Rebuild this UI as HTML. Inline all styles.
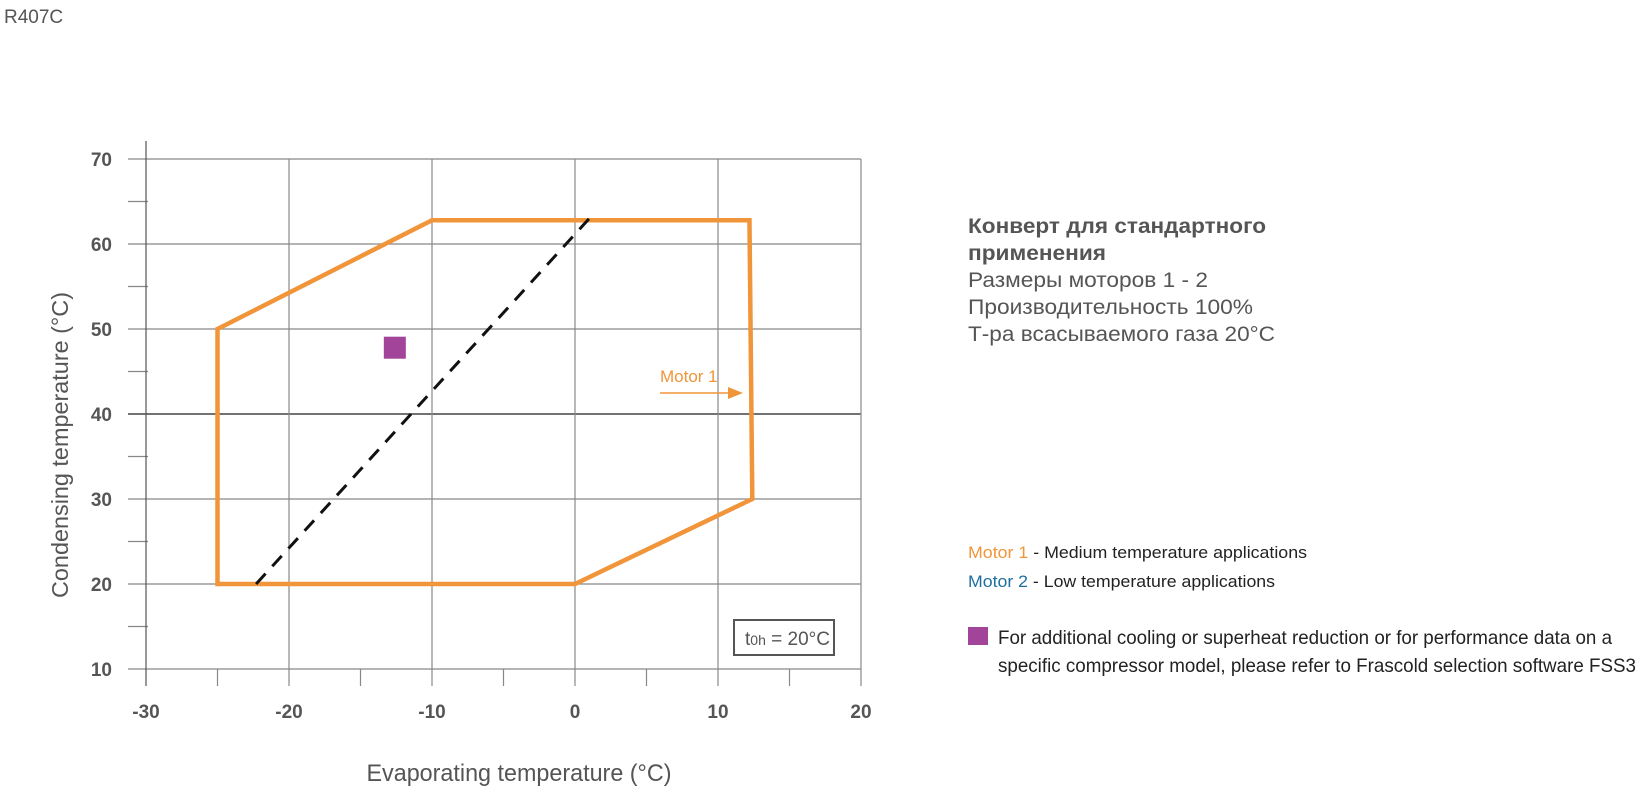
<!DOCTYPE html>
<html><head><meta charset="utf-8"><style>
html,body{margin:0;padding:0;background:#fff;}
svg{display:block;font-family:"Liberation Sans",sans-serif;}
</style></head><body>
<svg id="chart" width="1636" height="795" viewBox="0 0 1636 795">
<text x="4" y="23" font-size="19" fill="#555">R407C</text>
<g id="grid"></g>
<g id="marks"></g>
<text x="519" y="781" font-size="24" fill="#555" text-anchor="middle" textLength="305" lengthAdjust="spacingAndGlyphs">Evaporating temperature (°C)</text>
<text transform="translate(68,445) rotate(-90)" font-size="23" fill="#555" text-anchor="middle" textLength="306" lengthAdjust="spacingAndGlyphs">Condensing temperature (°C)</text>
<g>
<rect x="734" y="620" width="100" height="35" fill="#fff" stroke="#555" stroke-width="2"/>
<text x="745" y="645" font-size="19" fill="#555">t<tspan font-size="14">0h</tspan> = 20°C</text>
</g>
<g>
<text x="660" y="382" font-size="17" fill="#f0953a">Motor 1</text>
<line x1="660" y1="393" x2="738" y2="393" stroke="#f0953a" stroke-width="1.5"/>
<path d="M728,387 L743,393 L728,399 Z" fill="#f0953a"/>
</g>
<g fill="#555" font-size="21" lengthAdjust="spacingAndGlyphs">
<text x="968" y="233" font-weight="bold" textLength="298" lengthAdjust="spacingAndGlyphs">Конверт для стандартного</text>
<text x="968" y="260" font-weight="bold" textLength="138" lengthAdjust="spacingAndGlyphs">применения</text>
<text x="968" y="287" textLength="240" lengthAdjust="spacingAndGlyphs">Размеры моторов 1 - 2</text>
<text x="968" y="314" textLength="285" lengthAdjust="spacingAndGlyphs">Производительность 100%</text>
<text x="968" y="341" textLength="307" lengthAdjust="spacingAndGlyphs">Т-ра всасываемого газа 20°C</text>
</g>
<g font-size="17" fill="#222">
<text x="968" y="558" textLength="339" lengthAdjust="spacingAndGlyphs"><tspan fill="#f0953a">Motor 1</tspan> - Medium temperature applications</text>
<text x="968" y="587" textLength="307" lengthAdjust="spacingAndGlyphs"><tspan fill="#1f6f9e">Motor 2</tspan> - Low temperature applications</text>
<rect x="968" y="627" width="20" height="18" fill="#a1449a"/>
<text x="998" y="644" font-size="19.5" textLength="614" lengthAdjust="spacingAndGlyphs">For additional cooling or superheat reduction or for performance data on a</text>
<text x="998" y="672" font-size="19.5" textLength="638" lengthAdjust="spacingAndGlyphs">specific compressor model, please refer to Frascold selection software FSS3</text>
</g>
</svg>
<script>
const xTicks = [-30,-20,-10,0,10,20];
const yTicks = [10,20,30,40,50,60,70];
const envelopeX = [-25,-10,12.2,12.4,0,-25];
const envelopeY = [50,62.8,62.8,30,20,20];
const dashX = [-22.3,1];
const dashY = [20,63];
const squareX = [-12.6];
const squareY = [47.8];

const X = v => 575 + v*14.3;
const Y = v => 669 - (v-10)*8.5;
const NS = 'http://www.w3.org/2000/svg';
const grid = document.getElementById('grid');
const marks = document.getElementById('marks');
function mk(tag, attrs, parent){const e=document.createElementNS(NS,tag);for(const k in attrs)e.setAttribute(k,attrs[k]);parent.appendChild(e);return e;}

yTicks.forEach(v=>{
  const l=mk('line',{x1:128,x2:X(20),y1:Y(v),y2:Y(v),stroke:v===40?'#444':'#888','stroke-width':v===40?1.6:1.2},grid);
  
  
  const t=mk('text',{x:112,y:Y(v)+7,'font-size':19,'font-weight':'bold',fill:'#555','text-anchor':'end'},grid);
  t.textContent=v;
  
  
  if(v<70){
    const m=mk('line',{x1:128,x2:148,y1:Y(v+5),y2:Y(v+5),stroke:'#888','stroke-width':1.2},grid);
    
    
  }
});
xTicks.forEach((v,i)=>{
  const l=mk('line',{x1:X(v),x2:X(v),y1:i===0?141:Y(70),y2:686,stroke:i===0?'#555':'#888','stroke-width':1.2},grid);
  
  
  const t=mk('text',{x:X(v),y:718,'font-size':19,'font-weight':'bold',fill:'#555','text-anchor':'middle'},grid);
  t.textContent=v;
  
  
  if(i<xTicks.length-1){
    const m=mk('line',{x1:X(v+5),x2:X(v+5),y1:Y(10),y2:686,stroke:'#888','stroke-width':1.2},grid);
    
    
  }
});
const pts=envelopeX.map((x,i)=>X(x)+','+Y(envelopeY[i])).join(' ');
const env=mk('polygon',{points:pts,fill:'none',stroke:'#f0953a','stroke-width':4.5,'stroke-linejoin':'miter'},marks);


const d=mk('line',{x1:X(dashX[0]),y1:Y(dashY[0]),x2:X(dashX[1]),y2:Y(dashY[1]),stroke:'#111','stroke-width':3,'stroke-dasharray':'14 10'},marks);


squareX.forEach((x,i)=>{
  const s=mk('rect',{x:X(x)-11,y:Y(squareY[i])-11,width:22,height:22,fill:'#a1449a'},marks);
  
  
});
</script>
</body></html>
